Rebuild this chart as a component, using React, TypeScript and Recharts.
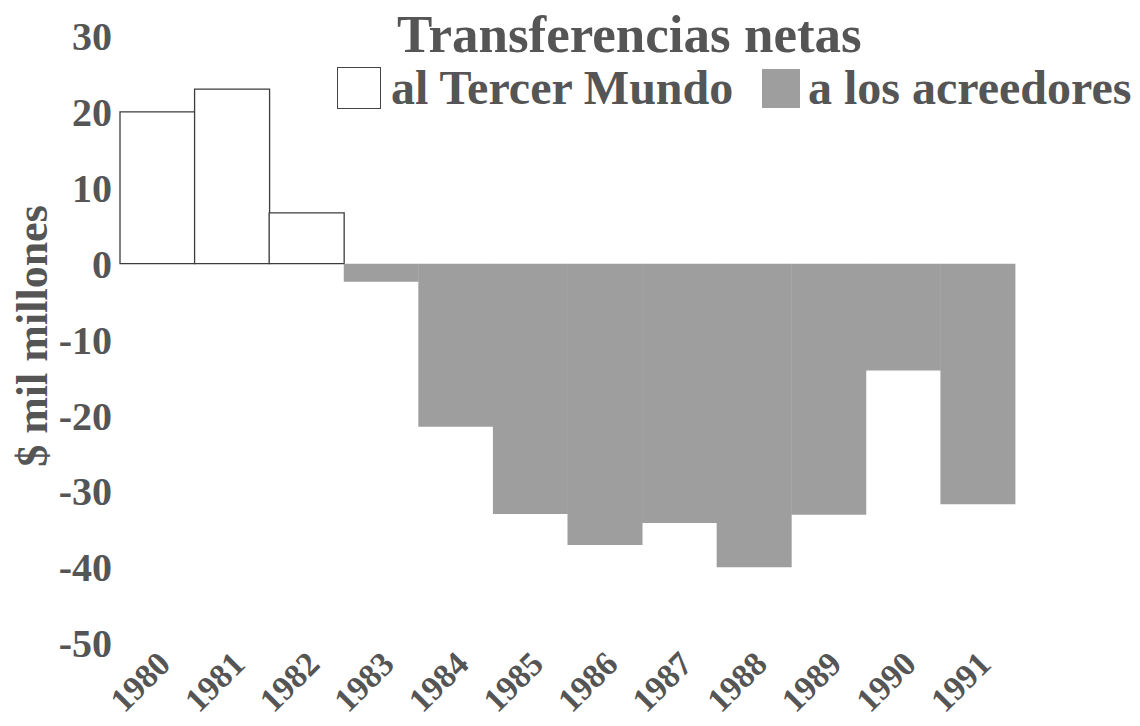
import { BarChart, Bar, XAxis, YAxis } from 'recharts';

const years = ['1980', '1981', '1982', '1983', '1984', '1985', '1986', '1987', '1988', '1989', '1990', '1991'];
// transferencias netas, $ mil millones
const alTercerMundo = [20, 23.0, 6.7, null, null, null, null, null, null, null, null, null];
const aLosAcreedores = [null, null, null, -2.4, -21.5, -33.0, -37.1, -34.2, -40.0, -33.1, -14.1, -31.7];
const yTicks = [30, 20, 10, 0, -10, -20, -30, -40, -50];

const data = years.map((year, i) => ({
  year,
  tercerMundo: alTercerMundo[i],
  acreedores: aLosAcreedores[i],
}));

const SERIF = '"Liberation Serif", "Times New Roman", serif';
const INK = '#555555';
const GREY = '#9e9e9e';

function YearTick({ x, y, payload }: any) {
  return (
    <g transform={`translate(${x + 15},${y + 15})`}>
      <text
        textAnchor="end"
        transform="rotate(-45)"
        fontFamily={SERIF}
        fontWeight="bold"
        fontSize={34}
        fill={INK}
      >
        {payload.value}
      </text>
    </g>
  );
}

function AxisTitle() {
  return (
    <text
      x={32}
      y={336}
      transform="rotate(-90, 32, 336)"
      textAnchor="middle"
      dominantBaseline="central"
      fontFamily={SERIF}
      fontWeight="bold"
      fontSize={44}
      fill={INK}
    >
      $ mil millones
    </text>
  );
}

function Header() {
  const text = { fontFamily: SERIF, fontWeight: 'bold', color: INK, whiteSpace: 'nowrap' as const, position: 'absolute' as const };
  return (
    <div style={{ position: 'absolute', left: 0, top: 0, width: 1140, height: 120, pointerEvents: 'none' }}>
      <div style={{ ...text, left: 397, top: 5, fontSize: 53, lineHeight: '58px' }}>Transferencias netas</div>
      <div style={{ position: 'absolute', left: 337, top: 67, width: 42, height: 40, border: '1.5px solid #444', background: '#fff' }} />
      <div style={{ ...text, left: 391, top: 62, fontSize: 48, lineHeight: '52px' }}>al Tercer Mundo</div>
      <div style={{ position: 'absolute', left: 762, top: 69, width: 38, height: 39, background: GREY }} />
      <div style={{ ...text, left: 808, top: 62, fontSize: 48, lineHeight: '52px' }}>a los acreedores</div>
    </div>
  );
}

export default function App() {
  return (
    <div style={{ position: 'absolute', left: 0, top: 0, width: 1140, height: 726, background: '#fff' }}>
      <BarChart
        width={1140}
        height={726}
        data={data}
        margin={{ top: 36, right: 125, left: 0, bottom: 23 }}
        barCategoryGap={0}
        barGap={0}
      >
        <XAxis dataKey="year" axisLine={false} tickLine={false} height={60} interval={0} tick={<YearTick />} />
        <YAxis
          width={120}
          domain={[-50, 30]}
          ticks={yTicks}
          interval={0}
          axisLine={false}
          tickLine={false}
          tick={{ fill: INK, fontSize: 40, fontFamily: SERIF, fontWeight: 'bold' }}
          label={<AxisTitle />}
        />
        <Bar dataKey="tercerMundo" stackId="t" fill="#ffffff" stroke="#3c3c3c" strokeWidth={1.3} isAnimationActive={false} />
        <Bar dataKey="acreedores" stackId="t" fill={GREY} isAnimationActive={false} />
      </BarChart>
      <Header />
    </div>
  );
}
